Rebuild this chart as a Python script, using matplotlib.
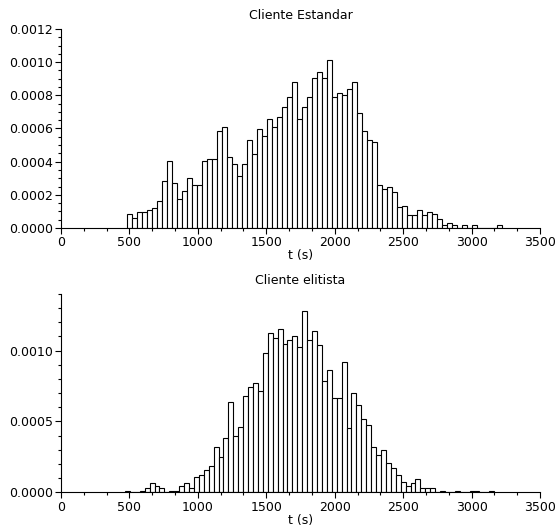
import numpy as np
import matplotlib
matplotlib.use("Agg")
import matplotlib.pyplot as plt
from matplotlib.ticker import MultipleLocator, AutoMinorLocator, FormatStrFormatter

# histogram bins (75 bins between min and max of each sample)
std_range = (485, 3225)
std_density = [
    0.000084, 0.000058, 0.000096, 0.000096, 0.000107, 0.000121, 0.000163, 0.000285,
    0.000402, 0.000273, 0.000175, 0.000223, 0.000302, 0.000261, 0.000261, 0.000402,
    0.000414, 0.000414, 0.000586, 0.000609, 0.000426, 0.000388, 0.000316, 0.000388,
    0.000531, 0.000444, 0.000597, 0.000555, 0.000659, 0.000610, 0.000672, 0.000727,
    0.000789, 0.000881, 0.000660, 0.000727, 0.000789, 0.000905, 0.000943, 0.000905,
    0.001013, 0.000790, 0.000814, 0.000802, 0.000838, 0.000882, 0.000695, 0.000585,
    0.000533, 0.000519, 0.000261, 0.000237, 0.000247, 0.000215, 0.000127, 0.000130,
    0.000080, 0.000080, 0.000106, 0.000080, 0.000095, 0.000082, 0.000055, 0.000017,
    0.000031, 0.000017, 0.0, 0.000017, 0.0, 0.000017, 0.0, 0.0, 0.0, 0.0, 0.000017,
]

eli_range = (468, 3166)
eli_density = [
    0.000012, 0.0, 0.0, 0.000012, 0.000028, 0.000064, 0.000047, 0.000028,
    0.0, 0.000012, 0.000012, 0.000047, 0.000064, 0.000033, 0.000106, 0.000123,
    0.000158, 0.000189, 0.000318, 0.000252, 0.000382, 0.000635, 0.000399, 0.000460,
    0.000677, 0.000743, 0.000771, 0.000717, 0.000984, 0.001125, 0.001090, 0.001156,
    0.001047, 0.001076, 0.001102, 0.001026, 0.001279, 0.001073, 0.001142, 0.001038,
    0.000788, 0.000861, 0.000663, 0.000663, 0.000918, 0.000453, 0.000701, 0.000613,
    0.000519, 0.000474, 0.000318, 0.000264, 0.000302, 0.000210, 0.000172, 0.000123,
    0.000075, 0.000047, 0.000064, 0.000092, 0.000028, 0.000028, 0.000028, 0.0,
    0.000012, 0.0, 0.0, 0.000012, 0.0, 0.0, 0.000012, 0.000012, 0.0, 0.0, 0.000012,
]

titles = ["Cliente Estandar", "Cliente elitista"]
xlabel = "t (s)"

plt.rcParams['font.family'] = ['DejaVu Sans']
plt.rcParams['font.size'] = 9

fig = plt.figure(figsize=(5.58, 5.29), dpi=100)
ax1 = fig.add_axes([0.1093, 0.569, 0.8584, 0.3762])
ax2 = fig.add_axes([0.1093, 0.0694, 0.8584, 0.3749])


def draw(ax, rng, dens, title, ymax, ymajor, yminor):
    edges = np.linspace(rng[0], rng[1], len(dens) + 1)
    ax.bar(edges[:-1], dens, width=np.diff(edges), align='edge',
           color='white', edgecolor='black', linewidth=0.8)
    ax.set_xlim(0, 3500)
    ax.set_ylim(0, ymax)
    ax.spines['top'].set_visible(False)
    ax.spines['right'].set_visible(False)
    ax.spines['left'].set_linewidth(0.8)
    ax.spines['bottom'].set_linewidth(0.8)
    ax.xaxis.set_major_locator(MultipleLocator(500))
    ax.xaxis.set_minor_locator(AutoMinorLocator(3))
    ax.yaxis.set_major_locator(MultipleLocator(ymajor))
    ax.yaxis.set_minor_locator(MultipleLocator(yminor))
    ax.yaxis.set_major_formatter(FormatStrFormatter('%.4f'))
    ax.tick_params(which='major', length=4, width=0.8, pad=2)
    ax.tick_params(which='minor', length=2, width=0.8)
    ax.set_title(title, fontsize=9, pad=7)
    ax.set_xlabel(xlabel, labelpad=0)


draw(ax1, std_range, std_density, titles[0], 0.0012, 0.0002, 0.00005)
draw(ax2, eli_range, eli_density, titles[1], 0.0014, 0.0005, 0.0001)

fig.savefig("out.png", dpi=100)
